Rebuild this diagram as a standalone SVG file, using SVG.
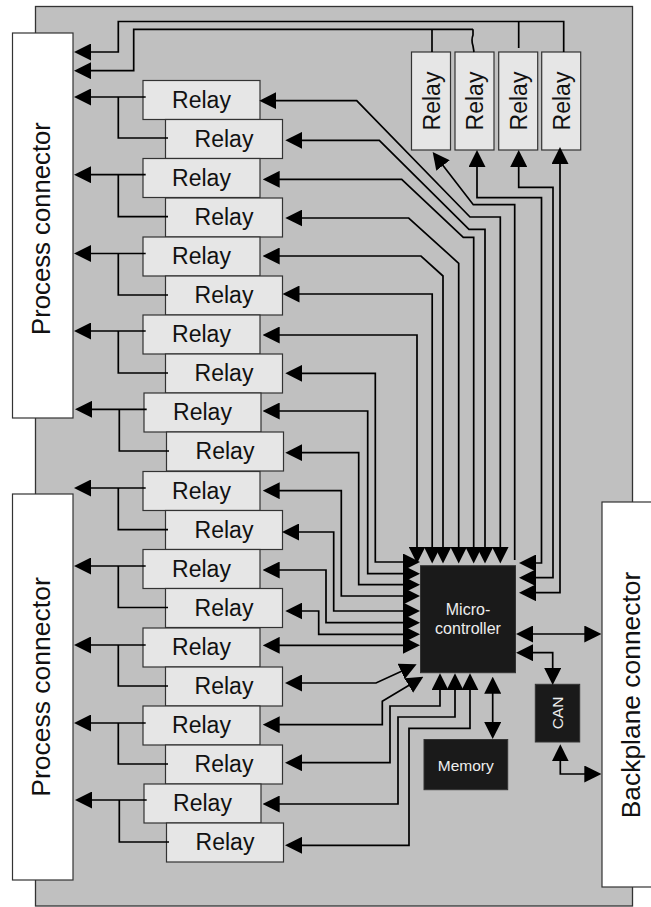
<svg xmlns="http://www.w3.org/2000/svg" width="651" height="907" viewBox="0 0 651 907">
<style>
text{font-family:"Liberation Sans",Arial,sans-serif;fill:#111}
.board{fill:#c0c0c0;stroke:#333;stroke-width:1.3}
.conn{fill:#fff;stroke:#333;stroke-width:1.2}
.relay{fill:#e6e6e6;stroke:#333;stroke-width:1.2}
.dark{fill:#1a1a1a;stroke:#333;stroke-width:1}
.rt{font-size:23px;text-anchor:middle}
.ct{font-size:26px;text-anchor:middle}
.wt{fill:#eee;font-size:16px;text-anchor:middle}
#connectors path{fill:none;stroke:#000;stroke-width:1.7}
.e{marker-end:url(#a)}
.b{marker-start:url(#a);marker-end:url(#a)}
</style>
<defs>
<marker id="a" markerUnits="userSpaceOnUse" markerWidth="17" markerHeight="17" refX="13" refY="8.5" orient="auto-start-reverse"><path d="M0 0L17 8.5L0 17Z" fill="#000"/></marker>
<g id="r"><rect class="relay" width="117" height="39"/><text class="rt" x="58.5" y="27">Relay</text></g>
<g id="v"><rect class="relay" width="39" height="98"/><text class="rt" transform="translate(28 49) rotate(-90)">Relay</text></g>
</defs>
<rect id="board" class="board" x="35.5" y="6.5" width="597" height="899.5"/>
<g id="process-1"><rect class="conn" x="12.5" y="33" width="60.5" height="385"/><text class="ct" style="font-size:25.7px" transform="translate(50 228.5) rotate(-90)">Process connector</text></g>
<g id="process-2"><rect class="conn" x="12.5" y="494" width="60.5" height="386"/><text class="ct" style="font-size:26.5px" transform="translate(50 687) rotate(-90)">Process connector</text></g>
<g id="backplane"><rect class="conn" x="602" y="502" width="60" height="385"/><text class="ct" style="font-size:26.4px" transform="translate(640 695) rotate(-90)">Backplane connector</text></g>
<use id="relay-0" href="#r" x="143" y="80.5"/>
<use id="relay-1" href="#r" x="165.5" y="119.5"/>
<use id="relay-2" href="#r" x="143" y="158.5"/>
<use id="relay-3" href="#r" x="165.5" y="198"/>
<use id="relay-4" href="#r" x="143" y="237"/>
<use id="relay-5" href="#r" x="165.5" y="276"/>
<use id="relay-6" href="#r" x="143" y="315"/>
<use id="relay-7" href="#r" x="165.5" y="354"/>
<use id="relay-8" href="#r" x="144" y="393"/>
<use id="relay-9" href="#r" x="166.5" y="432"/>
<use id="relay-10" href="#r" x="143" y="471.5"/>
<use id="relay-11" href="#r" x="165.5" y="510.5"/>
<use id="relay-12" href="#r" x="143" y="549.5"/>
<use id="relay-13" href="#r" x="165.5" y="588.5"/>
<use id="relay-14" href="#r" x="143" y="628"/>
<use id="relay-15" href="#r" x="165.5" y="667"/>
<use id="relay-16" href="#r" x="143" y="706"/>
<use id="relay-17" href="#r" x="165.5" y="745"/>
<use id="relay-18" href="#r" x="144" y="784"/>
<use id="relay-19" href="#r" x="166.5" y="823"/>
<use id="relay-t1" href="#v" x="411.5" y="52"/>
<use id="relay-t2" href="#v" x="455" y="52"/>
<use id="relay-t3" href="#v" x="498.7" y="52"/>
<use id="relay-t4" href="#v" x="541.7" y="52"/>
<g id="mcu"><rect class="dark" x="420.5" y="565.7" width="95" height="107"/><text class="wt" x="468" y="615">Micro-</text><text class="wt" x="468" y="634">controller</text></g>
<g id="can"><rect class="dark" x="535.3" y="684.3" width="44.4" height="57.7"/><text class="wt" style="font-size:15.5px" transform="translate(562.5 713) rotate(-90)">CAN</text></g>
<g id="memory"><rect class="dark" x="424" y="739.5" width="83.7" height="50.2"/><text class="wt" style="font-size:15.5px" x="465.8" y="770.7">Memory</text></g>
<g id="connectors">
<path class="e" d="M473 29.3H133.7V70.7H78"/>
<path d="M432 52V29.3"/>
<path class="e" d="M563.7 52V21.5H118.3V52H78"/>
<path d="M518.7 48V21.5"/>
<path d="M473 29.3V35Q471 40 473 46L474 52"/>
<path class="e" d="M145.7 97H78"/><path d="M118.3 97V138H168"/>
<path class="e" d="M145.7 174.7H78"/><path d="M118.3 174.7V216.7H168"/>
<path class="e" d="M145.7 253.5H78"/><path d="M118.3 253.5V295H168"/>
<path class="e" d="M145.7 331H78"/><path d="M118.3 331V373H168"/>
<path class="e" d="M146.7 409.3H79"/><path d="M119.3 409.3V451H169"/>
<path class="e" d="M145.7 488H78"/><path d="M118.3 488V529.7H168"/>
<path class="e" d="M145.7 566H78"/><path d="M118.3 566V607.5H168"/>
<path class="e" d="M145.7 645H78"/><path d="M118.3 645V686H168"/>
<path class="e" d="M145.7 723H78"/><path d="M118.3 723V764H168"/>
<path class="e" d="M146.7 800H79"/><path d="M119.3 800V842H169"/>
<path class="e" d="M514.7 560V204.7H473.3L435.1 155.2"/>
<path class="b" d="M500.3 559.5V217H470L356.7 100.7H263.3"/>
<path class="b" d="M485 559.5V229.3H469L379.3 140.3H289.3"/>
<path class="b" d="M473.7 559.5V237.3H463.3L401.7 179.3H266.7"/>
<path class="b" d="M458.7 559.5V263.3L408.7 218H289.3"/>
<path class="b" d="M443 559.5V276L421 256H266.7"/>
<path class="b" d="M432.2 559.5V294H286.5"/>
<path class="b" d="M417 559.5V335H266.7"/>
<path class="b" d="M416 562H375.3V373.3H289.3"/>
<path class="b" d="M416 573.7H367.7V411H266.7"/>
<path class="b" d="M416 584.7H358.7V452.7H289.3"/>
<path class="b" d="M416 596H341.3V490.7H266.7"/>
<path class="b" d="M416 611H333.7V532H286"/>
<path class="b" d="M416 622.7H326V570H266.7"/>
<path class="b" d="M416 634.3H318.7V611H289.3"/>
<path class="b" d="M416 645.3H266.7"/>
<path class="b" d="M413 666L376 683H289"/>
<path class="b" d="M419.9 678.8L382.3 701.3V724.7H266.7"/>
<path class="b" d="M440 677.3V706H390V762.7H289"/>
<path class="b" d="M455 677.3V717H398V804H266.7"/>
<path class="b" d="M470 677.3V728.3H409V845.3H289"/>
<path class="b" d="M523 563H541.5V197.7H477V154"/>
<path class="b" d="M523 577.7H553V187.3H518.7V154"/>
<path class="b" d="M523 592.7H560V151"/>
<path class="b" d="M520 634H597.3"/>
<path class="b" d="M520 652.7H552.7V681"/>
<path class="b" d="M560.3 748.3V774H597.3"/>
<path class="b" d="M492.7 680.7V735"/>
</g>
</svg>
